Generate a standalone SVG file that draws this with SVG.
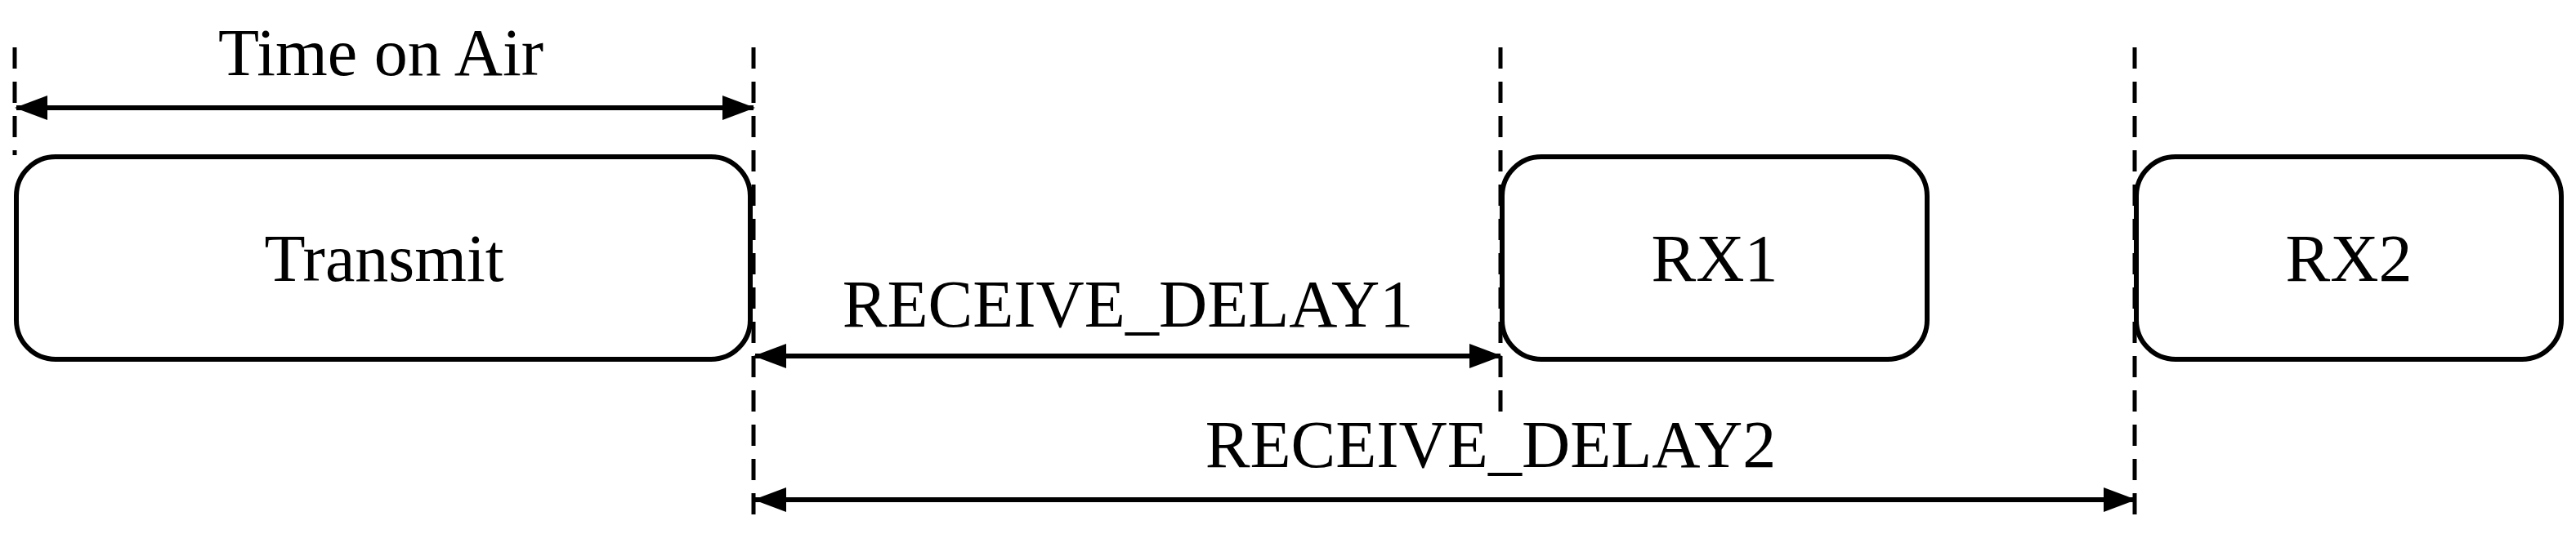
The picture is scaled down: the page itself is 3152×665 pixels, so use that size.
<svg xmlns="http://www.w3.org/2000/svg" width="3152" height="665" viewBox="0 0 3152 665">
<style>
.box{fill:#fff;stroke:#000;stroke-width:6}
.dash{stroke:#000;stroke-width:5;stroke-dasharray:26 16;fill:none}
.arr{stroke:#000;stroke-width:6;fill:none;marker-start:url(#a);marker-end:url(#a)}
text{font-family:"Liberation Serif",serif;font-size:82px;fill:#000;text-anchor:middle}
</style>
<defs>
<marker id="a" viewBox="0 0 40 30" refX="38" refY="15" markerWidth="40" markerHeight="30" markerUnits="userSpaceOnUse" orient="auto-start-reverse">
<path d="M0,0 L40,15 L0,30 Z" fill="#000"/>
</marker>
</defs>
<rect width="3152" height="665" fill="#fff"/>
<g id="guides">
<line class="dash" x1="18" y1="58" x2="18" y2="190"/>
<line class="dash" x1="922" y1="58" x2="922" y2="640"/>
<line class="dash" x1="1836" y1="58" x2="1836" y2="510"/>
<line class="dash" x1="2612" y1="58" x2="2612" y2="640"/>
</g>
<g id="transmit"><rect class="box" x="20" y="192" width="898" height="248" rx="48"/><text x="470" y="344">Transmit</text></g>
<g id="rx1"><rect class="box" x="1838" y="192" width="520" height="248" rx="48"/><text x="2098" y="344">RX1</text></g>
<g id="rx2"><rect class="box" x="2614" y="192" width="520" height="248" rx="48"/><text x="2874" y="344">RX2</text></g>
<g id="connectors">
<line class="arr" x1="20" y1="132" x2="922" y2="132"/>
<line class="arr" x1="924" y1="436" x2="1836" y2="436"/>
<line class="arr" x1="924" y1="612" x2="2612" y2="612"/>
</g>
<text x="466" y="92">Time on Air</text>
<text x="1380" y="400">RECEIVE_DELAY1</text>
<text x="1824" y="572">RECEIVE_DELAY2</text>
</svg>
